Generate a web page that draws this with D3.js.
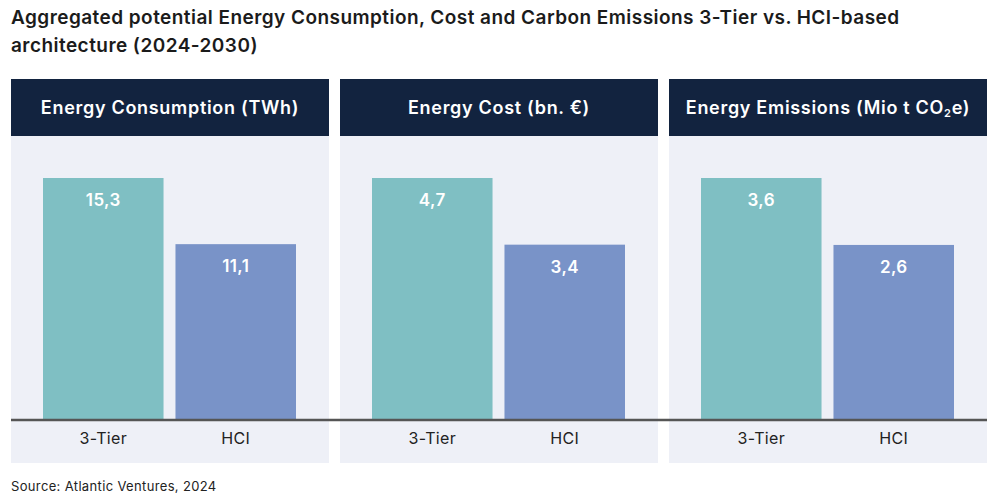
<!DOCTYPE html>
<html>
<head>
<meta charset="utf-8">
<script src="https://cdn.jsdelivr.net/npm/d3@7"></script>
<style>
  body { margin: 0; background: #fff; }
  svg text { font-family: Inter, "Open Sans", sans-serif; }
</style>
</head>
<body>
<div id="chart"></div>
<script>
const panelTitles = ["Energy Consumption (TWh)", "Energy Cost (bn. €)", "Energy Emissions (Mio t CO₂e)"];
const categories = ["3-Tier", "HCI"];
const consumption = [15.3, 11.1];
const cost = [4.7, 3.4];
const emissions = [3.6, 2.6];
const panelValues = [consumption, cost, emissions];

const w = 1000;
const h = 500;
const panelW = 318;
const panelGap = 11;
const left = 11;
const headerTop = 79;
const headerH = 57;
const baseline = 419;
const panelBottom = 463;

const colors = ["#7fbfc3", "#7993c8"];

const svg = d3.select("#chart")
    .append("svg")
    .attr("width", w)
    .attr("height", h);

// title
const title = svg.append("text")
    .attr("x", 11)
    .attr("y", 24)
    .attr("fill", "#1b1b1b")
    .attr("font-size", 19)
    .attr("font-weight", 600)
    .attr("letter-spacing", 0.45);
title.append("tspan").attr("x", 11).text("Aggregated potential Energy Consumption, Cost and Carbon Emissions 3-Tier vs. HCI-based");
title.append("tspan").attr("x", 11).attr("dy", 28).text("architecture (2024-2030)");

const fmt = (v) => d3.format(".1f")(v).replace(".", ",");

const xPanel = d3.scaleBand()
    .domain(d3.range(panelTitles.length))
    .range([left, left + panelTitles.length * panelW + (panelTitles.length - 1) * panelGap])
    .paddingInner(panelGap / (panelW + panelGap));

panelTitles.forEach((t, i) => {
    const x0 = xPanel(i);
    const g = svg.append("g").attr("transform", `translate(${x0},0)`);

    g.append("rect")
        .attr("x", 0).attr("y", headerTop + headerH)
        .attr("width", xPanel.bandwidth())
        .attr("height", panelBottom - headerTop - headerH)
        .attr("fill", "#eef0f7");

    g.append("rect")
        .attr("x", 0).attr("y", headerTop)
        .attr("width", xPanel.bandwidth())
        .attr("height", headerH)
        .attr("fill", "#12233f");

    const ht = g.append("text")
        .attr("x", xPanel.bandwidth() / 2)
        .attr("y", headerTop + headerH / 2 + 6)
        .attr("text-anchor", "middle")
        .attr("fill", "#fff")
        .attr("font-size", 18)
        .attr("font-weight", 600)
        .attr("letter-spacing", 0.7);
    if (t.includes("₂")) {
        const parts = t.split("₂");
        ht.append("tspan").text(parts[0]);
        ht.append("tspan").attr("font-size", 11).attr("dy", 3).text("2");
        ht.append("tspan").attr("dy", -3).text(parts[1]);
    } else {
        ht.text(t);
    }

    const vals = panelValues[i];
    const x = d3.scaleBand()
        .domain(categories)
        .range([32, 285])
        .paddingInner(12 / 133);
    const y = d3.scaleLinear()
        .domain([0, d3.max(vals)])
        .range([baseline, 178]);

    g.selectAll(".bar")
        .data(vals)
        .enter()
        .append("rect")
        .attr("class", "bar")
        .attr("x", (d, j) => x(categories[j]))
        .attr("y", (d) => y(d))
        .attr("width", x.bandwidth())
        .attr("height", (d) => baseline - y(d))
        .attr("fill", (d, j) => colors[j]);

    g.selectAll(".val")
        .data(vals)
        .enter()
        .append("text")
        .attr("class", "val")
        .attr("x", (d, j) => x(categories[j]) + x.bandwidth() / 2)
        .attr("y", (d) => y(d) + 28)
        .attr("text-anchor", "middle")
        .attr("fill", "#fff")
        .attr("font-size", 17)
        .attr("font-weight", 600)
        .attr("letter-spacing", 0.4)
        .text((d) => fmt(d));

    const xAxis = d3.axisBottom(x).tickSize(0).tickPadding(14);
    const ax = g.append("g")
        .attr("transform", `translate(0,${baseline})`)
        .call(xAxis);
    ax.select(".domain").remove();
    ax.selectAll("text")
        .attr("font-size", 16)
        .attr("fill", "#222")
        .attr("letter-spacing", 0.3)
        .attr("font-family", "Inter, sans-serif");
});

// baseline across all panels
svg.append("line")
    .attr("x1", left)
    .attr("x2", xPanel(2) + xPanel.bandwidth())
    .attr("y1", baseline + 1)
    .attr("y2", baseline + 1)
    .attr("stroke", "#555")
    .attr("stroke-width", 2.5);

svg.append("text")
    .attr("x", 11)
    .attr("y", 491)
    .attr("fill", "#222")
    .attr("font-size", 13)
    .attr("letter-spacing", 0.35)
    .text("Source: Atlantic Ventures, 2024");
</script>
</body>
</html>
